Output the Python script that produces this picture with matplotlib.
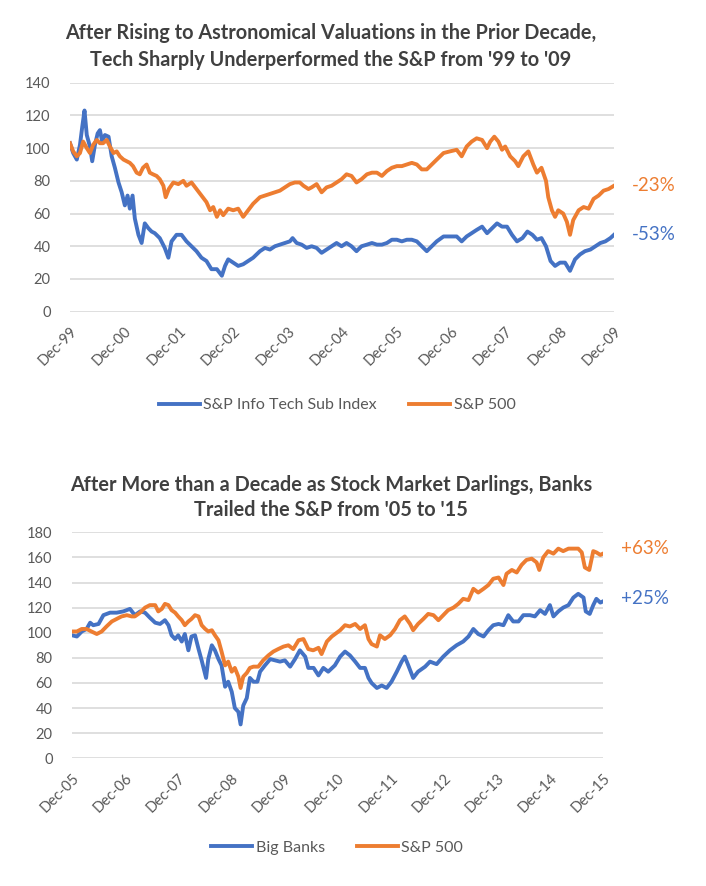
import matplotlib.pyplot as plt

plt.rcParams['font.family'] = ['Lato', 'DejaVu Sans']

# ---- top chart: months after Dec-99, index level (Dec-99 = 100)
tech_m = [0, 0.7, 1.5, 2.2, 2.7, 3.2, 3.7, 4.4, 4.9, 5.5,
          6.1, 6.6, 7.1, 7.7, 8.5, 9.2, 9.9, 10.7, 11.4, 12.1,
          12.7, 13.2, 13.8, 14.3, 15.1, 15.8, 16.5, 17.3, 18.0, 18.7,
          19.8, 20.9, 21.7, 22.4, 23.5, 24.6, 25.7, 26.8, 27.9, 29.0,
          30.1, 31.2, 32.4, 33.5, 34.2, 34.9, 36.0, 37.1, 38.2, 39.3,
          40.4, 41.9, 43.0, 44.1, 45.2, 46.3, 47.4, 48.5, 49.1, 50.0,
          51.1, 52.2, 53.3, 54.4, 55.5, 56.6, 57.7, 58.8, 59.9, 61.0,
          62.1, 63.2, 64.3, 65.5, 66.6, 67.7, 68.8, 69.9, 71.0, 72.1,
          73.2, 74.3, 75.4, 76.5, 77.6, 78.7, 79.8, 80.9, 82.4, 83.8,
          85.3, 86.4, 87.5, 88.6, 89.7, 90.9, 92.0, 93.1, 94.2, 95.3,
          96.4, 97.5, 98.6, 99.8, 100.9, 102.0, 103.0, 104.0, 105.0, 106.0,
          107.0, 108.1, 109.2, 110.3, 111.4, 112.5, 113.6, 114.8, 115.9, 117.0,
          118.1, 119.2, 120.0]
tech_v = [103, 97, 93, 102, 113, 123, 108, 101, 92, 102,
          109, 111, 104, 108, 107, 95, 88, 79, 73, 65,
          71, 63, 71, 57, 47, 42, 54, 51, 49, 48,
          45, 39, 33, 43, 47, 47, 43, 40, 37, 33,
          31, 26, 26, 22, 28, 32, 30, 28, 29, 31,
          33, 37, 39, 38, 40, 41, 42, 43, 45, 42,
          41, 39, 40, 39, 36, 38, 40, 42, 40, 42,
          40, 37, 40, 41, 42, 41, 41, 42, 44, 44,
          43, 44, 44, 43, 40, 37, 40, 43, 46, 46,
          46, 43, 46, 48, 50, 52, 48, 51, 54, 52,
          52, 47, 43, 45, 49, 47, 44, 45, 40, 31,
          28, 30, 30, 25, 32, 35, 37, 38, 40, 42,
          43, 45, 47]

sp1_m = [0, 0.7, 1.5, 2.2, 2.9, 3.7, 4.4, 5.1, 5.9, 6.6,
         7.3, 8.1, 8.8, 9.6, 10.3, 11.0, 11.8, 12.5, 13.2, 13.9,
         14.7, 15.4, 16.1, 16.9, 17.6, 18.3, 19.1, 19.8, 20.6, 21.1,
         21.8, 22.8, 23.9, 25.0, 25.7, 26.8, 27.9, 29.0, 30.1, 30.9,
         31.6, 32.4, 33.1, 33.8, 34.9, 36.0, 37.1, 38.2, 39.3, 40.4,
         41.9, 43.0, 44.1, 45.2, 46.3, 47.4, 48.5, 49.6, 50.7, 51.5,
         52.6, 53.3, 54.4, 55.5, 56.6, 57.7, 58.8, 59.9, 61.0, 62.1,
         63.2, 64.3, 65.5, 66.6, 67.7, 68.8, 69.9, 71.0, 72.1, 73.2,
         74.3, 75.4, 76.5, 77.6, 78.7, 79.8, 80.9, 82.4, 83.8, 85.3,
         86.4, 87.5, 88.6, 89.7, 90.9, 92.0, 92.7, 93.6, 94.5, 95.3,
         96.0, 97.1, 98.2, 98.9, 100.0, 101.1, 102.2, 103.0, 104.0, 105.0,
         105.5, 106.3, 107.0, 107.7, 108.8, 109.6, 110.3, 111.0, 112.2, 113.3,
         114.4, 115.5, 116.6, 117.7, 118.8, 120.0]
sp1_v = [103, 98, 95, 97, 104, 100, 97, 102, 105, 103,
         103, 105, 101, 97, 98, 95, 93, 92, 91, 89,
         85, 84, 88, 90, 85, 84, 83, 81, 77, 70,
         75, 79, 78, 80, 77, 79, 75, 71, 67, 62,
         64, 58, 62, 59, 63, 62, 63, 58, 62, 66,
         70, 71, 72, 73, 74, 76, 78, 79, 79, 77,
         75, 76, 78, 73, 76, 77, 79, 81, 84, 83,
         79, 81, 84, 85, 85, 83, 86, 88, 89, 89,
         90, 91, 90, 87, 87, 90, 93, 97, 98, 99,
         95, 101, 104, 106, 105, 100, 104, 107, 104, 99,
         101, 95, 92, 89, 95, 98, 90, 85, 88, 80,
         70, 62, 58, 62, 60, 55, 47, 56, 62, 64,
         63, 69, 71, 74, 75, 77]

# ---- bottom chart: months after Dec-05
bank_m = [0, 1.1, 2.2, 3.3, 4.1, 4.8, 6.0, 7.1, 8.6, 10.1,
          11.6, 13.1, 14.2, 15.4, 16.5, 17.6, 18.8, 19.9, 21.0, 21.8,
          22.5, 23.3, 24.0, 24.8, 25.5, 26.3, 27.0, 27.8, 28.6, 29.3,
          30.3, 30.8, 31.6, 32.3, 33.1, 33.8, 34.6, 35.3, 36.1, 36.8,
          37.6, 38.1, 38.7, 39.5, 40.2, 41.0, 41.9, 42.5, 43.6, 44.8,
          45.9, 47.0, 48.1, 49.3, 50.4, 51.5, 52.7, 53.4, 54.6, 55.7,
          56.8, 57.9, 59.4, 60.6, 61.7, 62.8, 64.0, 65.1, 66.2, 67.0,
          67.7, 68.9, 70.0, 71.1, 72.2, 73.4, 74.5, 75.2, 76.0, 77.1,
          78.2, 79.8, 80.9, 82.4, 83.9, 85.4, 86.9, 88.4, 89.6, 90.7,
          91.8, 93.0, 94.1, 95.2, 96.4, 97.5, 98.6, 99.7, 100.9, 102.0,
          103.5, 104.6, 105.8, 106.9, 108.0, 108.8, 109.9, 111.0, 112.2, 113.3,
          114.4, 115.6, 116.1, 117.0, 117.8, 118.5, 119.4, 120.0]
bank_v = [98, 97, 101, 103, 108, 106, 107, 114, 116, 116,
          117, 119, 114, 117, 116, 112, 108, 107, 110, 106,
          98, 95, 98, 93, 99, 86, 97, 98, 87, 78,
          64, 79, 90, 86, 79, 74, 57, 61, 53, 40,
          37, 27, 42, 48, 64, 61, 61, 69, 74, 79,
          78, 77, 78, 73, 79, 86, 81, 72, 72, 66,
          72, 69, 74, 81, 85, 82, 77, 72, 72, 64,
          60, 56, 58, 56, 61, 69, 77, 81, 74, 64,
          69, 73, 77, 75, 81, 86, 90, 93, 97, 103,
          99, 97, 102, 106, 107, 106, 114, 109, 109, 114,
          114, 113, 118, 115, 122, 113, 117, 120, 122, 128,
          131, 128, 117, 115, 122, 127, 124, 125]

sp2_m = [0, 1.1, 2.2, 3.3, 4.4, 5.6, 6.7, 7.8, 9.0, 10.1,
         11.2, 12.4, 13.5, 14.2, 15.4, 16.5, 17.6, 18.8, 19.5, 20.3,
         21.0, 21.8, 22.5, 23.3, 24.0, 24.8, 25.5, 26.3, 27.0, 27.8,
         28.6, 29.3, 30.1, 30.8, 31.6, 32.3, 33.1, 33.8, 34.6, 35.3,
         36.1, 36.8, 37.6, 38.1, 38.7, 39.5, 40.2, 41.0, 42.1, 43.2,
         44.4, 45.5, 46.6, 47.8, 48.9, 50.0, 51.2, 52.3, 53.4, 54.5,
         55.7, 56.4, 57.6, 58.7, 60.6, 61.7, 62.8, 64.0, 65.1, 66.2,
         67.0, 67.7, 68.9, 69.6, 70.7, 71.9, 73.0, 74.1, 75.2, 76.4,
         77.1, 78.2, 79.4, 80.5, 81.7, 82.8, 83.9, 85.0, 86.2, 87.3,
         88.4, 89.6, 90.7, 91.8, 93.0, 94.1, 95.2, 96.4, 97.5, 98.2,
         99.4, 100.5, 101.6, 102.7, 103.9, 105.0, 105.6, 106.5, 107.6, 108.8,
         109.9, 111.0, 112.2, 113.3, 114.4, 115.2, 115.9, 116.9, 117.8, 118.5,
         119.4, 120.0]
sp2_v = [101, 101, 103, 103, 101, 99, 101, 105, 109, 111,
         113, 114, 113, 113, 116, 120, 122, 122, 117, 119,
         123, 122, 118, 116, 113, 110, 106, 109, 111, 114,
         113, 106, 103, 101, 102, 98, 94, 85, 74, 77,
         69, 72, 65, 56, 65, 68, 72, 73, 73, 78,
         82, 85, 87, 89, 90, 87, 94, 95, 87, 86,
         88, 83, 93, 97, 102, 106, 105, 107, 103, 106,
         95, 91, 89, 98, 95, 98, 103, 110, 113, 107,
         102, 107, 111, 115, 114, 110, 114, 118, 120, 123,
         127, 126, 135, 132, 135, 138, 143, 144, 138, 147,
         150, 148, 154, 158, 159, 156, 150, 160, 165, 163,
         167, 165, 167, 167, 167, 164, 152, 150, 165, 164,
         162, 163]

top_ticks = ['Dec-99', 'Dec-00', 'Dec-01', 'Dec-02', 'Dec-03', 'Dec-04',
             'Dec-05', 'Dec-06', 'Dec-07', 'Dec-08', 'Dec-09']
bot_ticks = ['Dec-05', 'Dec-06', 'Dec-07', 'Dec-08', 'Dec-09', 'Dec-10',
             'Dec-11', 'Dec-12', 'Dec-13', 'Dec-14', 'Dec-15']

blue = '#4472C4'
orange = '#ED7D31'
grey = '#595959'

W, H = 706, 886
fig = plt.figure(figsize=(W / 100, H / 100), dpi=100)
ax1 = fig.add_axes([70 / W, 1 - 311.7 / H, (614 - 70) / W, (311.7 - 82.7) / H])
ax2 = fig.add_axes([72 / W, 1 - 758.3 / H, (603 - 72) / W, (758.3 - 532.3) / H])


def style(ax, ymax, labels):
    ax.set_xlim(0, 120)
    ax.set_ylim(0, ymax)
    ax.set_yticks(range(0, ymax + 1, 20))
    ax.set_xticks(range(0, 121, 12))
    ax.set_xticklabels(labels, rotation=45, ha='right', va='top',
                       rotation_mode='anchor')
    ax.tick_params(length=0, colors=grey)
    ax.tick_params(axis='x', pad=9, labelsize=10.5)
    ax.tick_params(axis='y', pad=14, labelsize=10.5)
    for s in ax.spines.values():
        s.set_visible(False)
    ax.grid(axis='y', color='#D9D9D9', lw=1.2)
    ax.set_axisbelow(True)


ax1.plot(tech_m, tech_v, color=blue, lw=2.8, label='S&P Info Tech Sub Index')
ax1.plot(sp1_m, sp1_v, color=orange, lw=2.8, label='S&P 500')
style(ax1, 140, top_ticks)
ax1.annotate('-23%', xy=(120, sp1_v[-1]), xytext=(13, 0), textcoords='offset points',
             va='center', color=orange, fontsize=13.5)
ax1.annotate('-53%', xy=(120, tech_v[-1]), xytext=(13, 0), textcoords='offset points',
             va='center', color=blue, fontsize=13.5)

ax2.plot(bank_m, bank_v, color=blue, lw=2.8, label='Big Banks')
ax2.plot(sp2_m, sp2_v, color=orange, lw=2.8, label='S&P 500')
style(ax2, 180, bot_ticks)
ax2.annotate('+63%', xy=(120, 167), xytext=(13, 0), textcoords='offset points',
             va='center', color=orange, fontsize=13.5)
ax2.annotate('+25%', xy=(120, 127), xytext=(13, 0), textcoords='offset points',
             va='center', color=blue, fontsize=13.5)

fig.text(331 / W, 1 - 46.5 / H,
         "After Rising to Astronomical Valuations in the Prior Decade,\n"
         "Tech Sharply Underperformed the S&P from '99 to '09",
         ha='center', va='center', fontsize=14.3, fontweight='bold',
         color='#404040', linespacing=1.4)
fig.text(331 / W, 1 - 497.5 / H,
         "After More than a Decade as Stock Market Darlings, Banks\n"
         "Trailed the S&P from '05 to '15",
         ha='center', va='center', fontsize=14.3, fontweight='bold',
         color='#404040', linespacing=1.3)

for ax, ly in [(ax1, 405), (ax2, 848)]:
    ax.legend(loc='center', bbox_to_anchor=(337 / W, 1 - ly / H),
              bbox_transform=fig.transFigure, ncol=2, frameon=False,
              fontsize=11.5, handlelength=2.6, handletextpad=0.2,
              columnspacing=2.0, labelcolor=grey)

fig.savefig('out.png', dpi=100, facecolor='white')
